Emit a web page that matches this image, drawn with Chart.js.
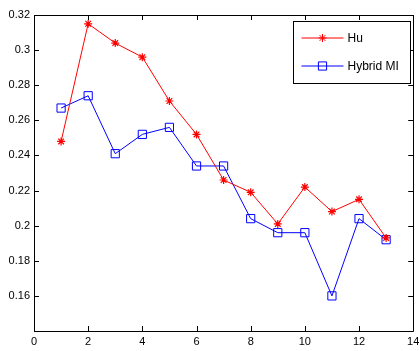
<!DOCTYPE html>
<html>
<head>
<meta charset="utf-8">
<script src="https://cdn.jsdelivr.net/npm/chart.js@4"></script>
<style>
  html, body { margin: 0; padding: 0; background: #fff; }
  #wrap { width: 420px; height: 351px; }
</style>
</head>
<body>
<div id="wrap"><canvas id="err-chart"></canvas></div>
<script>
// series values
const steps = [1, 2, 3, 4, 5, 6, 7, 8, 9, 10, 11, 12, 13]
const huValues = [0.248, 0.315, 0.304, 0.296, 0.271, 0.252, 0.226, 0.219, 0.201, 0.222, 0.208, 0.215, 0.193]
const hybridValues = [0.267, 0.274, 0.241, 0.252, 0.256, 0.234, 0.234, 0.204, 0.196, 0.196, 0.160, 0.204, 0.192]
const seriesNames = ["Hu", "Hybrid MI"]

// axis ticks
const xTicks = [0, 2, 4, 6, 8, 10, 12, 14]
const yTicks = [0.14, 0.16, 0.18, 0.2, 0.22, 0.24, 0.26, 0.28, 0.3, 0.32]

const tickFont = { family: "'Liberation Sans Narrow', 'Liberation Sans', Arial", size: 11 }

const toPoints = (vals) => vals.map((v, i) => ({ x: steps[i], y: v }))

// matlab style frame: box around plot, ticks pointing inwards on all sides
const framePlugin = {
  id: "frame",
  afterDraw(chart) {
    const ctx = chart.ctx
    const a = chart.chartArea
    const xs = chart.scales.x
    const ys = chart.scales.y
    const len = 5
    ctx.save()
    ctx.strokeStyle = "#000"
    ctx.lineWidth = 1
    ctx.beginPath()
    ctx.rect(Math.round(a.left) + 0.5, Math.round(a.top) + 0.5,
      Math.round(a.right - a.left), Math.round(a.bottom - a.top))
    xTicks.forEach((t) => {
      const px = Math.round(xs.getPixelForValue(t)) + 0.5
      ctx.moveTo(px, a.bottom)
      ctx.lineTo(px, a.bottom - len)
      ctx.moveTo(px, a.top)
      ctx.lineTo(px, a.top + len)
    })
    yTicks.forEach((t) => {
      const py = Math.round(ys.getPixelForValue(t)) + 0.5
      ctx.moveTo(a.left, py)
      ctx.lineTo(a.left + len, py)
      ctx.moveTo(a.right, py)
      ctx.lineTo(a.right - len, py)
    })
    ctx.stroke()

    // legend box in the top right corner
    const bx = 293.5, by = 21.5, bw = 117, bh = 62
    ctx.fillStyle = "#fff"
    ctx.fillRect(bx, by, bw, bh)
    ctx.strokeRect(bx, by, bw, bh)
    ctx.font = "12px " + tickFont.family
    ctx.textBaseline = "middle"
    chart.data.datasets.forEach((ds, i) => {
      const ly = by + 16.5 + i * 28
      ctx.strokeStyle = ds.borderColor
      ctx.lineWidth = 1
      ctx.beginPath()
      ctx.moveTo(bx + 8, ly)
      ctx.lineTo(bx + 50, ly)
      ctx.stroke()
      ctx.fillStyle = "rgba(0,0,0,0)"
      Chart.helpers.drawPoint(ctx, {
        pointStyle: ds.pointStyle,
        radius: ds.pointRadius,
        borderWidth: 1
      }, bx + 29, ly)
      ctx.fillStyle = "#000"
      ctx.fillText(seriesNames[i], bx + 54, ly + 1)
    })
    ctx.restore()
  }
}

const errData = {
  datasets: [
    {
      label: seriesNames[0],
      data: toPoints(huValues),
      borderColor: "#ff0000",
      backgroundColor: "#ff0000",
      borderWidth: 1,
      pointStyle: "star",
      pointRadius: 4,
      pointBorderWidth: 1.2,
    },
    {
      label: seriesNames[1],
      data: toPoints(hybridValues),
      borderColor: "#0000ff",
      backgroundColor: "rgba(0,0,0,0)",
      borderWidth: 1,
      pointStyle: "rect",
      pointRadius: 5.8,
      pointBorderWidth: 1,
    },
  ],
}

const errOptions = {
  responsive: true,
  maintainAspectRatio: false,
  animation: { duration: 0 },
  layout: { padding: { top: 15, right: 4, left: 0, bottom: 0 } },
  scales: {
    x: {
      type: "linear",
      min: 0,
      max: 14,
      afterFit: (s) => { s.height = 20 },
      afterBuildTicks: (s) => { s.ticks = xTicks.map((v) => ({ value: v })) },
      grid: { display: false },
      border: { display: false },
      ticks: { color: "#000", font: tickFont, padding: -4 },
    },
    y: {
      min: 0.14,
      max: 0.32,
      afterFit: (s) => { s.width = 34 },
      afterBuildTicks: (s) => { s.ticks = yTicks.map((v) => ({ value: v })) },
      grid: { display: false },
      border: { display: false },
      ticks: {
        color: "#000",
        font: tickFont,
        padding: -4,
        callback: (v) => (Math.abs(v - 0.14) < 1e-9 ? "" : String(+v.toFixed(2))),
      },
    },
  },
  plugins: {
    legend: { display: false },
    tooltip: { enabled: false },
  },
}

let errChart = new Chart(document.getElementById("err-chart"), {
  type: "line",
  data: errData,
  options: errOptions,
  plugins: [framePlugin],
})
</script>
</body>
</html>
